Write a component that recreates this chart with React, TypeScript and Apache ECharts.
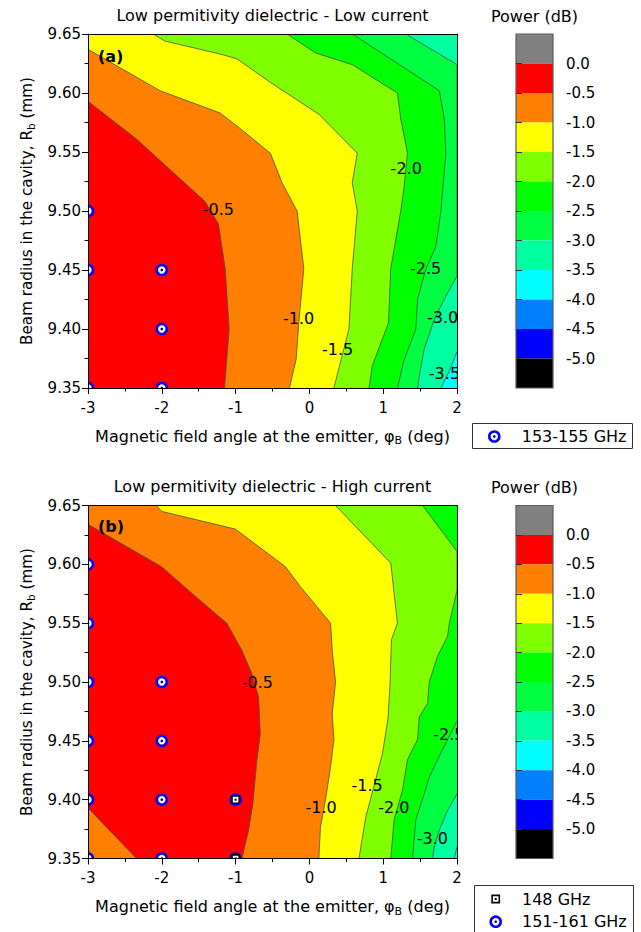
import React, { useEffect, useRef } from "react";
import * as echarts from "echarts";

const FONT = "'DejaVu Sans', 'Liberation Sans', Arial, sans-serif";

// Axis ranges
const X_MIN = -3;
const X_MAX = 2;
const X_INTERVAL = 1;
const Y_MIN = 9.35;
const Y_MAX = 9.65;
const Y_INTERVAL = 0.05;

// Colour scale (Power, dB)
const COLORBAR_LEVELS = [0, -0.5, -1.0, -1.5, -2.0, -2.5, -3.0, -3.5, -4.0, -4.5, -5.0];
const COLORBAR_MIN = -5.5;
const COLORBAR_MAX = 0.5;
const BAND_COLORS = [
  "#808080", "#ff0000", "#ff8000", "#ffff00", "#80ff00", "#00ff00",
  "#00ff40", "#00ffa0", "#00ffff", "#0080ff", "#0000ff", "#000000",
];

// Texts
const TITLE_A = "Low permitivity dielectric - Low current";
const TITLE_B = "Low permitivity dielectric - High current";
const PANEL_A_TAG = "(a)";
const PANEL_B_TAG = "(b)";
const COLORBAR_TITLE = "Power (dB)";
const X_NAME = "Magnetic field angle at the emitter, φ{s|B} (deg)";
const Y_NAME = "Beam radius in the cavity, R{s|b} (mm)";
const LEGEND_A_CIRCLE = "153-155 GHz";
const LEGEND_B_SQUARE = "148 GHz";
const LEGEND_B_CIRCLE = "151-161 GHz";

// ---------- Panel (a) contour lines [angle, radius] ----------
const A_M05 = [[-3, 9.593], [-2.343, 9.561], [-1.413, 9.508], [-1.232, 9.489], [-1.141, 9.451], [-1.087, 9.4], [-1.15, 9.35]];
const A_M10 = [[-3, 9.637], [-2.025, 9.602], [-1.209, 9.583], [-0.96, 9.571], [-0.529, 9.549], [-0.371, 9.524], [-0.167, 9.5], [-0.076, 9.451], [-0.144, 9.405], [-0.18, 9.374], [-0.271, 9.35]];
const A_M15 = [[-2.116, 9.65], [-1.957, 9.644], [-1.209, 9.633], [-0.983, 9.629], [-0.529, 9.609], [0.128, 9.582], [0.649, 9.549], [0.581, 9.524], [0.649, 9.5], [0.581, 9.451], [0.536, 9.4], [0.332, 9.35]];
const A_M20 = [[-0.303, 9.65], [0.083, 9.634], [0.581, 9.624], [1.193, 9.6], [1.238, 9.578], [1.329, 9.549], [1.284, 9.521], [1.238, 9.5], [1.102, 9.451], [1.071, 9.405], [0.853, 9.369], [0.808, 9.35]];
const A_M25 = [[0.581, 9.65], [1.76, 9.602], [1.828, 9.578], [1.85, 9.549], [1.782, 9.5], [1.714, 9.47], [1.578, 9.451], [1.465, 9.425], [1.442, 9.4], [1.284, 9.374], [1.193, 9.35]];
const A_M30 = [[1.306, 9.65], [2.0, 9.624], [2.0, 9.445], [1.85, 9.428], [1.692, 9.408], [1.556, 9.383], [1.488, 9.36], [1.465, 9.35]];
const A_M35 = [[2.0, 9.381], [1.9, 9.365], [1.782, 9.35]];

// contour labels [angle, radius, level]
const A_LABELS = [[-1.234, 9.501, -0.5], [-0.147, 9.409, -1.0], [0.383, 9.383, -1.5], [1.312, 9.536, -2.0], [1.575, 9.451, -2.5], [1.806, 9.41, -3.0], [1.83, 9.362, -3.5]];
const A_CIRCLES = [[-3, 9.5], [-3, 9.45], [-2, 9.45], [-2, 9.4], [-3, 9.35], [-2, 9.35]];

// ---------- Panel (b) contour lines ----------
const B_M05 = [[-3, 9.634], [-2.003, 9.598], [-1.549, 9.573], [-1.119, 9.55], [-0.915, 9.527], [-0.779, 9.507], [-0.688, 9.487], [-0.665, 9.456], [-0.711, 9.434], [-0.765, 9.397], [-0.824, 9.374], [-0.915, 9.35]];
const B_M05_CORNER = [[-3, 9.393], [-2.343, 9.35]];
const B_M10 = [[-2.071, 9.65], [-2.003, 9.645], [-1.005, 9.63], [-0.325, 9.598], [-0.122, 9.581], [0.287, 9.55], [0.309, 9.527], [0.354, 9.5], [0.309, 9.473], [0.332, 9.451], [0.287, 9.428], [0.218, 9.4], [0.15, 9.377], [0.128, 9.35]];
const B_M10_CORNER = [[-3, 9.358], [-2.932, 9.35]];
const B_M15 = [[0.354, 9.65], [1.103, 9.601], [1.193, 9.55], [1.112, 9.536], [1.094, 9.5], [1.067, 9.47], [0.99, 9.439], [0.885, 9.414], [0.763, 9.385], [0.672, 9.35]];
const B_M20 = [[1.533, 9.65], [2.0, 9.611], [2.0, 9.578], [1.896, 9.55], [1.873, 9.539], [1.737, 9.522], [1.624, 9.5], [1.601, 9.482], [1.488, 9.47], [1.465, 9.451], [1.329, 9.434], [1.261, 9.408], [1.148, 9.383], [1.103, 9.35]];
const B_M25 = [[2.0, 9.467], [1.873, 9.451], [1.737, 9.434], [1.624, 9.419], [1.556, 9.405], [1.442, 9.383], [1.397, 9.35]];
const B_M30 = [[2.0, 9.405], [1.873, 9.391], [1.76, 9.374], [1.692, 9.36], [1.669, 9.35]];
const B_M35 = [[2.0, 9.36], [1.964, 9.35]];

const B_LABELS = [[-0.704, 9.5, -0.5], [0.158, 9.393, -1.0], [0.783, 9.412, -1.5], [1.144, 9.393, -2.0], [1.89, 9.455, -2.5], [1.666, 9.367, -3.0]];
const B_CIRCLES = [[-3, 9.6], [-3, 9.55], [-3, 9.5], [-3, 9.45], [-3, 9.4], [-3, 9.35], [-2, 9.5], [-2, 9.45], [-2, 9.4], [-2, 9.35], [-1, 9.4], [-1, 9.35]];
const B_SQUARES = [[-1, 9.4], [-1, 9.35]];

type Line = { level: number; pts: number[][]; corner?: boolean };

const A_LINES: Line[] = [
  { level: -3.5, pts: A_M35 },
  { level: -3.0, pts: A_M30 },
  { level: -2.5, pts: A_M25 },
  { level: -2.0, pts: A_M20 },
  { level: -1.5, pts: A_M15 },
  { level: -1.0, pts: A_M10 },
  { level: -0.5, pts: A_M05 },
];
const B_LINES: Line[] = [
  { level: -3.5, pts: B_M35 },
  { level: -3.0, pts: B_M30 },
  { level: -2.5, pts: B_M25 },
  { level: -2.0, pts: B_M20 },
  { level: -1.5, pts: B_M15 },
  { level: -1.0, pts: B_M10 },
  { level: -0.5, pts: B_M05 },
  { level: -0.5, pts: B_M05_CORNER, corner: true },
  { level: -1.0, pts: B_M10_CORNER, corner: true },
];

const bandAbove = (level: number) => BAND_COLORS[Math.round(-level * 2)];
const bandBelow = (level: number) => BAND_COLORS[Math.round(-level * 2) + 1];

function ringMarker(x: number, y: number, extra: any = {}) {
  return {
    type: "group",
    children: [
      { type: "circle", ...extra, shape: { cx: x, cy: y, r: 5 }, style: { fill: "#ffffff", stroke: "#0000ff", lineWidth: 2.6 } },
      { type: "circle", ...extra, shape: { cx: x, cy: y, r: 1.3 }, style: { fill: "#00007a" } },
    ],
  };
}
function squareMarker(x: number, y: number, extra: any = {}) {
  return {
    type: "group",
    children: [
      { type: "rect", ...extra, shape: { x: x - 3.6, y: y - 3.6, width: 7.2, height: 7.2 }, style: { fill: "#ffffff", stroke: "#000000", lineWidth: 1.6 } },
      { type: "rect", ...extra, shape: { x: x - 1, y: y - 1, width: 2, height: 2 }, style: { fill: "#000000" } },
    ],
  };
}

function contourSeries(lines: Line[], axisIndex: number) {
  const ordered = [
    ...lines.filter((l) => !l.corner).sort((a, b) => a.level - b.level),
    ...lines.filter((l) => l.corner).sort((a, b) => b.level - a.level),
  ];
  const minLevel = Math.min(...lines.map((l) => l.level));
  const data = [[X_MIN, Y_MIN, -1], ...ordered.map((_, i) => [X_MIN, Y_MIN, i])];
  return {
    type: "custom",
    xAxisIndex: axisIndex,
    yAxisIndex: axisIndex,
    clip: true,
    silent: true,
    z: 2,
    data,
    renderItem: (params: any, api: any) => {
      const idx = params.dataIndex - 1;
      if (idx < 0) {
        const p0 = api.coord([X_MIN, Y_MAX]);
        const p1 = api.coord([X_MAX, Y_MIN]);
        return {
          type: "rect",
          shape: { x: p0[0], y: p0[1], width: p1[0] - p0[0], height: p1[1] - p0[1] },
          style: { fill: bandBelow(minLevel) },
        };
      }
      const line = ordered[idx];
      const S = line.pts[0];
      const E = line.pts[line.pts.length - 1];
      const ring = [...line.pts, [E[0], Y_MIN], [X_MIN, Y_MIN], [X_MIN, Y_MAX], [S[0], Y_MAX]].map((p) => api.coord(p));
      const linePts = line.pts.map((p) => api.coord(p));
      return {
        type: "group",
        children: [
          { type: "polygon", shape: { points: ring }, style: { fill: line.corner ? bandBelow(line.level) : bandAbove(line.level) } },
          { type: "polyline", shape: { points: linePts }, style: { stroke: "#4d4d4d", lineWidth: 0.8, fill: null } },
        ],
      };
    },
  };
}

function labelSeries(labels: number[][], axisIndex: number) {
  return {
    type: "custom",
    xAxisIndex: axisIndex,
    yAxisIndex: axisIndex,
    clip: true,
    silent: true,
    z: 3,
    data: labels.map((l) => [l[0], l[1], l[2]]),
    renderItem: (params: any, api: any) => {
      const p = api.coord([api.value(0), api.value(1)]);
      return {
        type: "text",
        x: p[0],
        y: p[1],
        style: {
          text: Number(api.value(2)).toFixed(1),
          fontSize: 16,
          fontFamily: FONT,
          fill: "#000000",
          align: "center",
          verticalAlign: "middle",
        },
      };
    },
  };
}

function markerSeries(points: number[][], axisIndex: number, kind: "circle" | "square") {
  return {
    type: "custom",
    xAxisIndex: axisIndex,
    yAxisIndex: axisIndex,
    clip: true,
    silent: true,
    z: kind === "circle" ? 4 : 5,
    data: points,
    renderItem: (params: any, api: any) => {
      const p = api.coord([api.value(0), api.value(1)]);
      return kind === "circle" ? ringMarker(p[0], p[1]) : squareMarker(p[0], p[1]);
    },
  };
}

function colorbarSeries(axisIndex: number) {
  const data = [...BAND_COLORS.map((_, i) => [0, 0, i]), [0, 0, BAND_COLORS.length]];
  return {
    type: "custom",
    xAxisIndex: axisIndex,
    yAxisIndex: axisIndex,
    silent: true,
    z: 2,
    data,
    renderItem: (params: any, api: any) => {
      const i = params.dataIndex;
      if (i >= BAND_COLORS.length) {
        const p0 = api.coord([0, COLORBAR_MAX]);
        const p1 = api.coord([1, COLORBAR_MIN]);
        return {
          type: "rect",
          shape: { x: p0[0], y: p0[1], width: p1[0] - p0[0], height: p1[1] - p0[1] },
          style: { fill: null, stroke: "#5a5a5a", lineWidth: 1.2 },
        };
      }
      const top = COLORBAR_MAX - 0.5 * i;
      const p0 = api.coord([0, top]);
      const p1 = api.coord([1, top - 0.5]);
      return {
        type: "rect",
        shape: { x: p0[0], y: p0[1], width: p1[0] - p0[0], height: p1[1] - p0[1] },
        style: { fill: BAND_COLORS[i] },
      };
    },
  };
}

const subRich = (size: number) => ({
  s: { fontFamily: FONT, fontSize: size, color: "#000000", verticalAlign: "bottom", lineHeight: size },
});

function mainXAxes(gridIndex: number) {
  return [
    {
      gridIndex,
      type: "value",
      min: X_MIN,
      max: X_MAX,
      interval: X_INTERVAL,
      position: "bottom",
      z: 10,
      name: X_NAME,
      nameLocation: "middle",
      nameGap: 38,
      nameTextStyle: { fontFamily: FONT, fontSize: 16, color: "#000000", lineHeight: 20, rich: subRich(11) },
      axisLine: { show: true, onZero: false, lineStyle: { color: "#000000", width: 1 } },
      axisTick: { show: true, inside: false, length: 6, lineStyle: { color: "#000000", width: 1 } },
      minorTick: { show: true, splitNumber: 2, length: 3.5, lineStyle: { color: "#000000", width: 1 } },
      axisLabel: { fontFamily: FONT, fontSize: 15, color: "#000000", margin: 12, formatter: (v: number) => String(v) },
      splitLine: { show: false },
      minorSplitLine: { show: false },
    },
    {
      gridIndex,
      type: "value",
      min: X_MIN,
      max: X_MAX,
      position: "top",
      z: 10,
      axisLine: { show: true, onZero: false, lineStyle: { color: "#000000", width: 1 } },
      axisTick: { show: false },
      axisLabel: { show: false },
      splitLine: { show: false },
    },
  ];
}

function mainYAxes(gridIndex: number) {
  return [
    {
      gridIndex,
      type: "value",
      min: Y_MIN,
      max: Y_MAX,
      interval: Y_INTERVAL,
      position: "left",
      z: 10,
      name: Y_NAME,
      nameLocation: "middle",
      nameGap: 51,
      nameTextStyle: { fontFamily: FONT, fontSize: 15.2, color: "#000000", lineHeight: 19, rich: subRich(10.5) },
      axisLine: { show: true, onZero: false, lineStyle: { color: "#000000", width: 1 } },
      axisTick: { show: true, inside: false, length: 6, lineStyle: { color: "#000000", width: 1 } },
      minorTick: { show: true, splitNumber: 2, length: 3.5, lineStyle: { color: "#000000", width: 1 } },
      axisLabel: { fontFamily: FONT, fontSize: 15, color: "#000000", margin: 7, formatter: (v: number) => v.toFixed(2) },
      splitLine: { show: false },
      minorSplitLine: { show: false },
    },
    {
      gridIndex,
      type: "value",
      min: Y_MIN,
      max: Y_MAX,
      position: "right",
      z: 10,
      axisLine: { show: true, onZero: false, lineStyle: { color: "#000000", width: 1 } },
      axisTick: { show: false },
      axisLabel: { show: false },
      splitLine: { show: false },
    },
  ];
}

function colorbarAxes(gridIndex: number) {
  return {
    x: { gridIndex, type: "value", min: 0, max: 1, show: false },
    y: {
      gridIndex,
      type: "value",
      min: COLORBAR_MIN,
      max: COLORBAR_MAX,
      interval: 0.5,
      position: "right",
      z: 10,
      axisLine: { show: false },
      axisTick: { show: true, inside: false, length: 6, customValues: COLORBAR_LEVELS, lineStyle: { color: "#333333", width: 1 } },
      axisLabel: {
        customValues: COLORBAR_LEVELS,
        fontFamily: FONT,
        fontSize: 15,
        color: "#000000",
        margin: 13,
        formatter: (v: number) => (v > 0.01 || v < -5.01 ? "" : v.toFixed(1)),
      },
      splitLine: { show: false },
    },
  };
}

function textEl(text: string, x: number, y: number, opts: any = {}) {
  return {
    type: "text",
    x,
    y,
    z: 100,
    style: {
      text,
      fontFamily: FONT,
      fontSize: 16,
      fill: "#000000",
      align: opts.align || "center",
      textAlign: opts.align || "center",
      verticalAlign: "middle",
      textVerticalAlign: "middle",
      fontWeight: opts.bold ? "bold" : "normal",
    },
  };
}

function buildOption() {
  const cbA = colorbarAxes(2);
  const cbB = colorbarAxes(3);
  const xAxes = [...mainXAxes(0), ...mainXAxes(1), cbA.x, cbB.x];
  const yAxes = [...mainYAxes(0), ...mainYAxes(1), cbA.y, cbB.y];
  const onTop = { z: 95 };
  return {
    animation: false,
    backgroundColor: "#ffffff",
    grid: [
      { left: 88, top: 34, width: 369, height: 354, outerBoundsMode: "none" },
      { left: 88, top: 505.5, width: 369, height: 353, outerBoundsMode: "none" },
      { left: 516, top: 34, width: 37, height: 354, outerBoundsMode: "none" },
      { left: 516, top: 505.5, width: 37, height: 353, outerBoundsMode: "none" },
    ],
    xAxis: xAxes,
    yAxis: yAxes,
    series: [
      contourSeries(A_LINES, 0),
      labelSeries(A_LABELS, 0),
      markerSeries(A_CIRCLES, 0, "circle"),
      contourSeries(B_LINES, 2),
      labelSeries(B_LABELS, 2),
      markerSeries(B_CIRCLES, 2, "circle"),
      markerSeries(B_SQUARES, 2, "square"),
      colorbarSeries(4),
      colorbarSeries(5),
    ],
    graphic: [
      textEl(TITLE_A, 272.5, 15),
      textEl(TITLE_B, 272.5, 486.5),
      textEl(COLORBAR_TITLE, 534.5, 16),
      textEl(COLORBAR_TITLE, 534.5, 487.5),
      textEl(PANEL_A_TAG, 98, 56, { align: "left", bold: true }),
      textEl(PANEL_B_TAG, 98, 526, { align: "left", bold: true }),
      { type: "rect", shape: { x: 472.5, y: 423.5, width: 160, height: 25 }, style: { fill: "#ffffff", stroke: "#333333", lineWidth: 1 }, z: 90 },
      ringMarker(494.3, 436.5, onTop),
      textEl(LEGEND_A_CIRCLE, 521.7, 436.5, { align: "left" }),
      { type: "rect", shape: { x: 474.5, y: 885.5, width: 159, height: 60 }, style: { fill: "#ffffff", stroke: "#333333", lineWidth: 1 }, z: 90 },
      squareMarker(495.7, 899, onTop),
      textEl(LEGEND_B_SQUARE, 522, 899, { align: "left" }),
      ringMarker(495.7, 921.7, onTop),
      textEl(LEGEND_B_CIRCLE, 522, 921.7, { align: "left" }),
    ],
  };
}

export default function App() {
  const ref = useRef<HTMLDivElement>(null);
  useEffect(() => {
    document.body.style.margin = "0";
    const chart = echarts.init(ref.current as HTMLDivElement, null, { renderer: "svg" });
    chart.setOption(buildOption() as any);
    return () => chart.dispose();
  }, []);
  return <div ref={ref} style={{ width: 641, height: 932 }} />;
}
